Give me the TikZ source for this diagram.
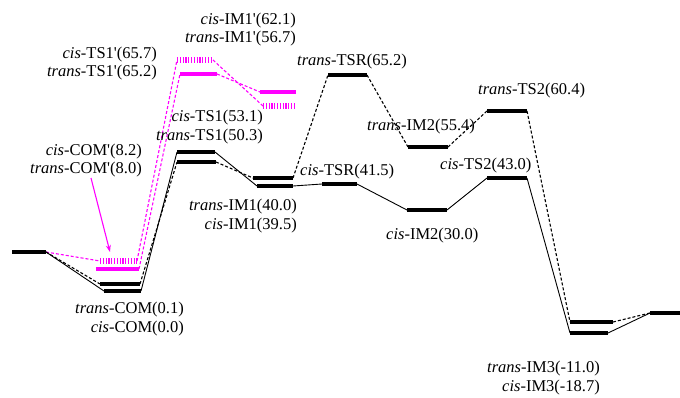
\documentclass[tikz,border=0pt]{standalone}
\usepackage{fontspec}
\setmainfont{Liberation Serif}
\usetikzlibrary{arrows.meta}
\definecolor{mag}{RGB}{255,0,255}
\tikzset{
  bar/.style={line width=4.6pt, black},
  magbar/.style={line width=4.8pt, mag},
  hatchbar/.style={line width=5.4pt, mag, dash pattern=on 1.2pt off 1.6pt},
  cisline/.style={line width=0.9pt, black},
  transline/.style={line width=1.1pt, black, dash pattern=on 3pt off 2pt},
  magline/.style={line width=1.1pt, mag, dash pattern=on 3pt off 2pt},
  lab/.style={inner sep=0pt, font=\fontsize{16.5}{19}\selectfont},
}
\newcommand{\lvl}[4]{% name, x left, x right, y
  \coordinate (#1L) at (#2,#4);
  \coordinate (#1R) at (#3,#4);
}
\begin{document}
\begin{tikzpicture}[x=1pt,y=-1pt]
\useasboundingbox (0,0) rectangle (680,397);

% level end points
\lvl{R}{12}{46}{252}
\lvl{COMpc}{100}{137}{261}
\lvl{COMpt}{96}{139}{269}
\lvl{COMt}{100}{140}{284}
\lvl{COMc}{104}{141}{291}
\lvl{TSpc}{177}{213}{60}
\lvl{TSpt}{180}{217}{74}
\lvl{IMpt}{260}{296}{92}
\lvl{IMpc}{263}{296}{106}
\lvl{TSc}{177}{215}{152}
\lvl{TSt}{177}{216}{162}
\lvl{IMt}{253}{293}{178}
\lvl{IMc}{257}{293}{186}
\lvl{TSRt}{328}{367}{75}
\lvl{TSRc}{322}{357}{184}
\lvl{IMIIt}{408}{448}{147}
\lvl{IMIIc}{407}{447}{210}
\lvl{TSIIt}{487}{527}{111}
\lvl{TSIIc}{487}{527}{178}
\lvl{IMIIIt}{570}{613}{322}
\lvl{IMIIIc}{570}{608}{333}
\lvl{P}{650}{680}{313}

% connectors
\draw[magline] (RR) -- (COMpcL);
\draw[transline] (RR) -- (COMtL);
\draw[cisline] (RR) -- (COMcL);
\draw[magline] (COMpcR) -- (TSpcL);
\draw[magline] (COMptR) -- (TSptL);
\draw[transline] (COMtR) -- (TStL);
\draw[cisline] (COMcR) -- (TScL);
\draw[magline] (TSpcR) -- (IMpcL);
\draw[magline] (TSptR) -- (IMptL);
\draw[cisline] (TScR) -- (IMcL);
\draw[transline] (TStR) -- (IMtL);
\draw[transline] (IMtR) -- (TSRtL);
\draw[cisline] (IMcR) -- (TSRcL);
\draw[transline] (TSRtR) -- (IMIItL);
\draw[cisline] (TSRcR) -- (IMIIcL);
\draw[transline] (IMIItR) -- (TSIItL);
\draw[cisline] (IMIIcR) -- (TSIIcL);
\draw[transline] (TSIItR) -- (IMIIItL);
\draw[cisline] (TSIIcR) -- (IMIIIcL);
\draw[transline] (IMIIItR) -- (PL);
\draw[cisline] (IMIIIcR) -- (PL);

% energy levels
\draw[bar] (RL) -- (RR);
\draw[hatchbar] (COMpcL) -- (COMpcR);
\draw[magbar] (COMptL) -- (COMptR);
\draw[bar] (COMtL) -- (COMtR);
\draw[bar] (COMcL) -- (COMcR);
\draw[hatchbar] (TSpcL) -- (TSpcR);
\draw[magbar] (TSptL) -- (TSptR);
\draw[magbar] (IMptL) -- (IMptR);
\draw[hatchbar] (IMpcL) -- (IMpcR);
\draw[bar] (TScL) -- (TScR);
\draw[bar] (TStL) -- (TStR);
\draw[bar] (IMtL) -- (IMtR);
\draw[bar] (IMcL) -- (IMcR);
\draw[bar] (TSRtL) -- (TSRtR);
\draw[bar] (TSRcL) -- (TSRcR);
\draw[bar] (IMIItL) -- (IMIItR);
\draw[bar] (IMIIcL) -- (IMIIcR);
\draw[bar] (TSIItL) -- (TSIItR);
\draw[bar] (TSIIcL) -- (TSIIcR);
\draw[bar] (IMIIItL) -- (IMIIItR);
\draw[bar] (IMIIIcL) -- (IMIIIcR);
\draw[bar] (PL) -- (PR);

% labels
\node[lab, anchor=east] (lCOMpc) at (142,152) {\textit{cis}-COM\textquotesingle(8.2)};
\node[lab, anchor=east] (lCOMpt) at (142,170) {\textit{trans}-COM\textquotesingle(8.0)};
\node[lab, anchor=east] (lTSpc) at (157,55) {\textit{cis}-TS1\textquotesingle(65.7)};
\node[lab, anchor=east] (lTSpt) at (157,73) {\textit{trans}-TS1\textquotesingle(65.2)};
\node[lab, anchor=east] (lIMpc) at (296,21) {\textit{cis}-IM1\textquotesingle(62.1)};
\node[lab, anchor=east] (lIMpt) at (296,39) {\textit{trans}-IM1\textquotesingle(56.7)};
\node[lab, anchor=east] (lTSc) at (263,118) {\textit{cis}-TS1(53.1)};
\node[lab, anchor=east] (lTSt) at (263,137) {\textit{trans}-TS1(50.3)};
\node[lab, anchor=east] (lIMt) at (297,207) {\textit{trans}-IM1(40.0)};
\node[lab, anchor=east] (lIMc) at (297,226) {\textit{cis}-IM1(39.5)};
\node[lab, anchor=west] (lTSRt) at (297,62) {\textit{trans}-TSR(65.2)};
\node[lab, anchor=west] (lTSRc) at (300,172) {\textit{cis}-TSR(41.5)};
\node[lab, anchor=west] (lIMIIt) at (367,127) {\textit{trans}-IM2(55.4)};
\node[lab, anchor=west] (lTSIIt) at (478,91) {\textit{trans}-TS2(60.4)};
\node[lab, anchor=west] (lTSIIc) at (440,166) {\textit{cis}-TS2(43.0)};
\node[lab, anchor=west] (lIMIIc) at (386,236) {\textit{cis}-IM2(30.0)};
\node[lab, anchor=east] (lCOMt) at (184,310) {\textit{trans}-COM(0.1)};
\node[lab, anchor=east] (lCOMc) at (184,329) {\textit{cis}-COM(0.0)};
\node[lab, anchor=east] (lIMIIIt) at (600,369) {\textit{trans}-IM3(-11.0)};
\node[lab, anchor=east] (lIMIIIc) at (600,388) {\textit{cis}-IM3(-18.7)};

% pointer to the primed complexes
\coordinate (arrTip) at (110,252);
\draw[mag, line width=1.1pt, -{Stealth[length=7pt,width=5pt]}] (91,178) -- (arrTip);
\end{tikzpicture}
\end{document}
